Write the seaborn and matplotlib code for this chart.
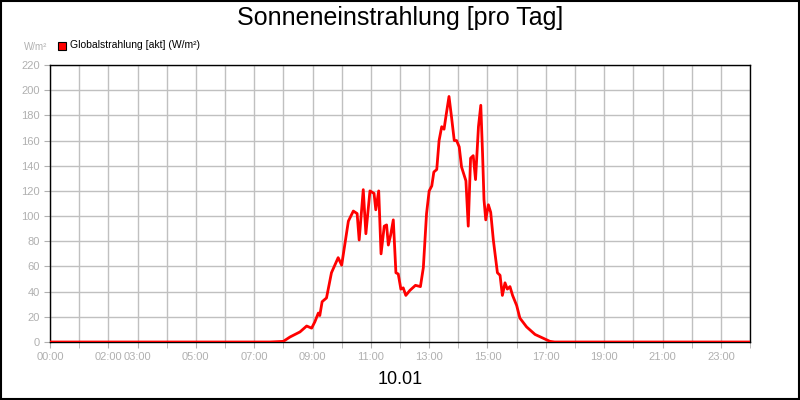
import matplotlib
matplotlib.use("Agg")
import matplotlib.pyplot as plt
import seaborn as sns
import pandas as pd
from matplotlib.patches import Rectangle

hours = [0, 7.54, 8.0, 8.23, 8.57, 8.80, 8.97, 9.08, 9.20, 9.25, 9.33, 9.48, 9.65, 9.88, 10.0,
         10.23, 10.40, 10.53, 10.60, 10.74, 10.83, 10.97, 11.11, 11.17, 11.27, 11.35, 11.46,
         11.54, 11.60, 11.68, 11.77, 11.86, 11.94, 12.03, 12.11, 12.20, 12.34, 12.53, 12.70,
         12.80, 12.91, 13.00, 13.09, 13.16, 13.26, 13.34, 13.43, 13.51, 13.58, 13.68, 13.77,
         13.86, 13.94, 14.03, 14.11, 14.26, 14.34, 14.42, 14.51, 14.59, 14.69, 14.77, 14.83,
         14.88, 14.94, 15.03, 15.11, 15.20, 15.34, 15.43, 15.51, 15.60, 15.68, 15.77, 15.86,
         16.0, 16.11, 16.34, 16.63, 16.91, 17.14, 17.3, 24]
values = [0, 0, 0.5, 4, 8, 12.7, 11, 16, 23, 21, 32, 35, 55, 67, 61,
          96, 104, 102, 81, 121, 86, 120, 118, 105, 120, 70, 92,
          93, 77, 85, 97, 55, 54, 42, 43, 37, 41, 45, 44,
          59, 102, 120, 124, 135, 137, 160, 171, 169, 180, 195, 178,
          160, 160, 155, 139, 128, 92, 146, 148, 129, 171, 188, 150,
          113, 97, 109, 103, 81, 55, 53, 37, 47, 42, 44, 37,
          29, 19, 12, 6, 3, 0.5, 0, 0]
tick_hours = [0, 2, 3, 5, 7, 9, 11, 13, 15, 17, 19, 21, 23]
tick_labels = ["00:00", "02:00", "03:00", "05:00", "07:00", "09:00", "11:00", "13:00",
               "15:00", "17:00", "19:00", "21:00", "23:00"]

sns.set_style("white")
plt.rcParams['font.family'] = ['Liberation Sans', 'DejaVu Sans']

df = pd.DataFrame({"h": hours, "v": values})
fig = plt.figure(figsize=(8, 4), dpi=100)
ax = fig.add_axes([0.0625, 0.145, 0.875, 0.6925])
sns.lineplot(data=df, x="h", y="v", ax=ax, color="#ff0000", linewidth=2, zorder=3)

ax.set_xlim(0, 24)
ax.set_ylim(0, 220)
ax.set_xticks(tick_hours)
ax.set_xticklabels(tick_labels)
ax.set_xticks(range(0, 25), minor=True)
ax.tick_params(axis="x", which="both", length=4, color="#b0b0b0", direction="out",
               labelsize=8, labelcolor="#b0b0b0", bottom=True)
ax.set_yticks(range(0, 221, 20))
ax.tick_params(axis="y", labelsize=8, labelcolor="#b0b0b0", length=4, color="#b0b0b0", left=True)
ax.grid(True, which="both", color="#c0c0c0", linewidth=1)
ax.set_xlabel("")
ax.set_ylabel("")
for s in ax.spines.values():
    s.set_color("black")
    s.set_linewidth(1)
    s.set_visible(True)

fig.text(0.5, 0.955, "Sonneneinstrahlung [pro Tag]", ha="center", va="center", fontsize=18, color="black")
fig.text(0.5, 0.05, "10.01", ha="center", va="center", fontsize=13, color="black")
fig.text(0.03, 0.883, "W/m²", ha="left", va="center", fontsize=7, color="#b0b0b0")
fig.patches.append(Rectangle((0.073, 0.875), 0.01, 0.02, transform=fig.transFigure,
                             facecolor="#ff0000", edgecolor="black", linewidth=0.8))
fig.text(0.087, 0.887, "Globalstrahlung [akt] (W/m²)", ha="left", va="center", fontsize=7.5, color="black")
fig.patches.append(Rectangle((0.001, 0.002), 0.998, 0.996, transform=fig.transFigure,
                             facecolor="none", edgecolor="black", linewidth=1.5))
fig.savefig("out.png", dpi=100)
